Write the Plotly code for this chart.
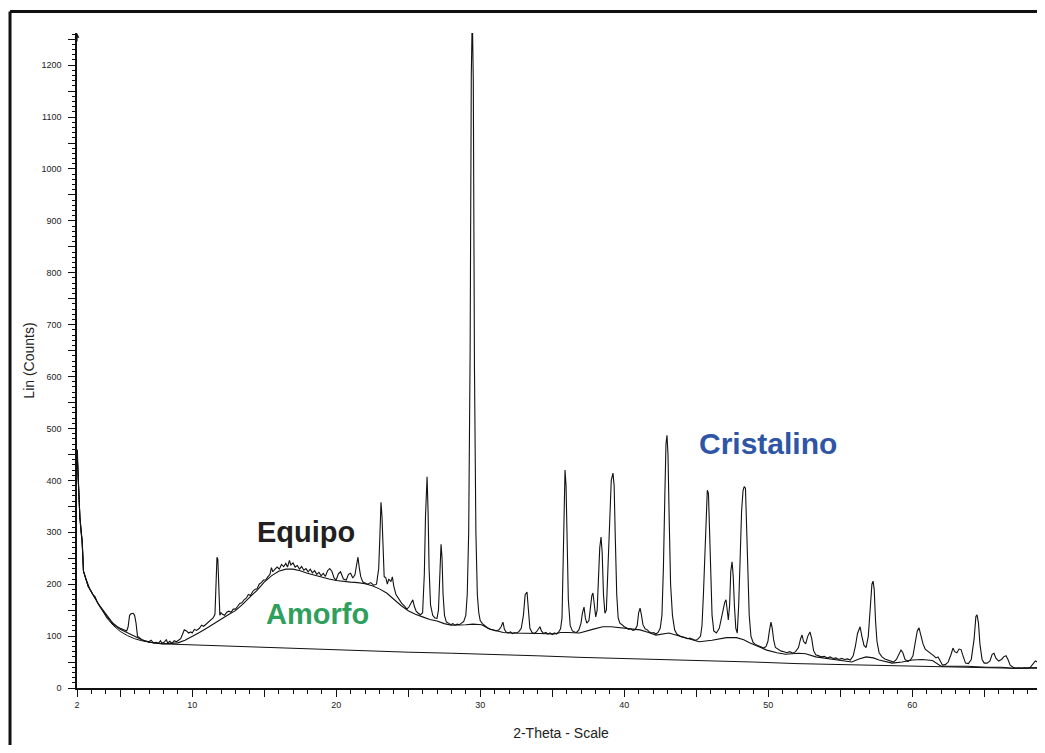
import plotly.graph_objects as go

# ---------------- data ----------------
obs_2theta = [
    2.00, 2.03, 2.07, 2.13, 2.20, 2.28, 2.35, 2.40, 2.45, 2.60,
    2.77, 2.90, 3.00, 3.10, 3.25, 3.35, 3.45, 3.60, 3.75, 3.90,
    4.07, 4.20, 4.35, 4.50, 4.65, 4.80, 5.00, 5.15, 5.30, 5.45,
    5.55, 5.65, 5.75, 5.90, 6.00, 6.10, 6.20, 6.30, 6.50, 6.70,
    6.85, 7.00, 7.15, 7.30, 7.50, 7.65, 7.80, 7.90, 8.05, 8.20,
    8.30, 8.45, 8.60, 8.75, 8.90, 9.05, 9.20, 9.35, 9.45, 9.60,
    9.75, 9.90, 10.00, 10.15, 10.30, 10.50, 10.65, 10.80, 11.00, 11.15,
    11.30, 11.45, 11.58, 11.65, 11.72, 11.78, 11.84, 11.92, 12.00, 12.10,
    12.25, 12.40, 12.55, 12.70, 12.85, 13.00, 13.15, 13.30, 13.45, 13.60,
    13.75, 13.90, 14.05, 14.20, 14.35, 14.50, 14.65, 14.80, 14.95, 15.10,
    15.25, 15.40, 15.50, 15.60, 15.75, 15.90, 16.05, 16.20, 16.35, 16.50,
    16.62, 16.75, 16.85, 17.00, 17.15, 17.30, 17.45, 17.60, 17.75, 17.90,
    18.05, 18.20, 18.35, 18.50, 18.65, 18.80, 18.95, 19.10, 19.25, 19.40,
    19.55, 19.70, 19.85,
    20.00, 20.15, 20.30, 20.50, 20.70, 20.85, 21.00, 21.15, 21.30, 21.42,
    21.51, 21.60, 21.70, 21.85, 22.00, 22.20, 22.40, 22.60, 22.80, 22.95,
    23.03, 23.11, 23.18, 23.25, 23.33, 23.45, 23.55, 23.65, 23.80, 23.90,
    24.00, 24.15, 24.35, 24.55, 24.75, 24.90, 25.05, 25.20, 25.32, 25.42,
    25.55, 25.70, 25.85, 26.00, 26.12, 26.20, 26.31, 26.38, 26.45, 26.55,
    26.70, 26.85, 27.00, 27.10, 27.18, 27.28, 27.35, 27.42, 27.52, 27.65,
    27.80, 27.95, 28.10, 28.25, 28.40, 28.55, 28.70, 28.85, 29.00, 29.10,
    29.20, 29.30, 29.38, 29.45, 29.52, 29.60, 29.70, 29.80, 29.90, 30.00,
    30.15, 30.30, 30.50, 30.70, 30.90, 31.10, 31.30, 31.45, 31.58, 31.68,
    31.80, 31.95, 32.10, 32.25, 32.40, 32.55, 32.70, 32.85, 33.00, 33.12,
    33.25, 33.35, 33.45, 33.60, 33.75, 33.90, 34.02, 34.15, 34.25, 34.40,
    34.55, 34.70, 34.85, 35.00, 35.15, 35.30, 35.45, 35.58, 35.68, 35.75,
    35.82, 35.89, 35.96, 36.04, 36.12, 36.25, 36.40, 36.55, 36.70, 36.85,
    37.00, 37.10, 37.21, 37.30, 37.40, 37.55, 37.65, 37.75, 37.83, 37.92,
    38.02, 38.12, 38.22, 38.30, 38.39, 38.47, 38.56, 38.66, 38.76, 38.88,
    39.00, 39.10, 39.22, 39.30, 39.38, 39.48, 39.58, 39.70, 39.85, 40.00,
    40.15, 40.30, 40.45, 40.60, 40.75, 40.90, 41.00, 41.10, 41.20, 41.30,
    41.45, 41.60, 41.75, 41.90, 42.05, 42.20, 42.35, 42.50, 42.62, 42.72,
    42.82, 42.90, 42.97, 43.04, 43.12, 43.22, 43.35, 43.50, 43.65, 43.80,
    43.95, 44.10, 44.25, 44.40, 44.55, 44.70, 44.85, 45.00, 45.15, 45.30,
    45.40, 45.50, 45.60, 45.70, 45.77, 45.85, 45.92, 46.00, 46.10, 46.22,
    46.40, 46.60, 46.75, 46.90, 46.98, 47.07, 47.15, 47.23, 47.32, 47.40,
    47.49, 47.57, 47.65, 47.75, 47.85, 47.95, 48.05, 48.15, 48.25, 48.33,
    48.42, 48.50, 48.58, 48.68, 48.80, 48.95, 49.10, 49.30, 49.50, 49.70,
    49.85, 49.98, 50.08, 50.19, 50.28, 50.38, 50.50, 50.70, 50.90, 51.10,
    51.30, 51.50, 51.70, 51.90, 52.10, 52.25, 52.35, 52.45, 52.60, 52.75,
    52.90, 53.02, 53.15, 53.30, 53.50, 53.70, 53.90, 54.10, 54.30, 54.50,
    54.70, 54.90, 55.10, 55.30, 55.50, 55.70, 55.90, 56.05, 56.20, 56.38,
    56.50, 56.65, 56.80, 56.95, 57.10, 57.20, 57.28, 57.36, 57.45, 57.55,
    57.70, 57.90, 58.10, 58.30, 58.50, 58.70, 58.90, 59.05, 59.22, 59.35,
    59.50, 59.70, 59.90, 60.05, 60.20, 60.35, 60.47, 60.60, 60.75, 60.90,
    61.10, 61.30, 61.50, 61.65, 61.79, 61.95, 62.10, 62.30, 62.50, 62.70,
    62.83, 62.95, 63.10, 63.25, 63.39, 63.55, 63.70, 63.90, 64.10, 64.30,
    64.42, 64.50, 64.60, 64.70, 64.85, 65.00, 65.20, 65.40, 65.55, 65.68,
    65.80, 66.00, 66.20, 66.35, 66.51, 66.65, 66.80, 67.00, 67.20, 67.40,
    67.60, 67.80, 68.00, 68.20, 68.40, 68.55, 68.70, 68.85, 69.00, 69.20,
]
obs_counts = [
    459, 455, 416, 360, 329, 300, 285, 262, 225, 212,
    198, 190, 186, 180, 176, 170, 163, 158, 152, 146,
    141, 135, 130, 125, 121, 118, 115, 113, 111, 110,
    118, 140, 143, 144, 140, 125, 100, 97, 93, 91,
    90, 89, 92, 87, 88, 86, 91, 86, 88, 93,
    87, 90, 86, 91, 89, 92, 95, 105, 112, 110,
    106, 108, 106, 113, 111, 115, 121, 119, 124, 127,
    131, 135, 142, 200, 252, 248, 180, 140, 145, 142,
    140, 146, 148, 146, 152, 152, 157, 163, 164, 170,
    173, 180, 178, 186, 190, 191, 200, 203, 208, 208,
    214, 219, 232, 224, 229, 233, 229, 238, 234, 240,
    233, 246, 237, 241, 233, 236, 229, 234, 227, 230,
    224, 229, 222, 226, 219, 223, 216, 221, 215, 226,
    230, 225, 212,
    208, 220, 224, 210, 208, 219, 221, 212, 218, 238,
    252, 232, 215, 204, 202, 200, 203, 198, 200, 230,
    290, 358, 330, 260, 215, 212, 200, 210, 205, 214,
    196, 180, 172, 163, 158, 152, 156, 165, 170, 158,
    148, 144, 141, 145, 220, 330, 407, 340, 230, 160,
    140, 135, 134, 150, 210, 277, 250, 180, 140, 127,
    125, 122, 124, 121, 123, 122, 125, 128, 140, 180,
    300, 650, 1180, 1300, 1170, 620, 300, 180, 145, 130,
    124, 120, 116, 113, 111, 110, 112, 118, 127, 113,
    108, 106, 108, 105, 107, 106, 109, 115, 140, 180,
    185, 150, 115, 107, 105, 108, 112, 118, 110, 105,
    107, 104, 106, 103, 106, 104, 108, 114, 135, 220,
    360, 420, 390, 280, 170, 120, 110, 108, 107, 112,
    125, 145, 156, 135, 125, 130, 160, 178, 183, 160,
    137, 150, 220, 270, 291, 260, 180, 144, 150, 230,
    340, 400, 414, 390, 290, 180, 135, 125, 122, 118,
    116, 113, 114, 111, 112, 120, 145, 154, 140, 122,
    114, 112, 108, 106, 107, 104, 107, 115, 140, 230,
    370, 470, 487, 450, 330, 200, 140, 112, 104, 101,
    99, 98, 97, 95, 96, 94, 93, 92, 95, 100,
    120, 180, 270, 360, 381, 375, 320, 220, 140, 110,
    106, 115, 135, 160, 165, 170, 150, 131, 160, 225,
    243, 215, 160, 115, 106, 160, 250, 340, 380, 388,
    385, 300, 200, 140, 100, 88, 84, 82, 79, 77,
    80, 90, 110, 127, 115, 92, 78, 74, 71, 70,
    68, 70, 67, 70, 78, 95, 102, 90, 85, 100,
    108, 95, 72, 64, 62, 60, 61, 58, 60, 57,
    58, 55, 57, 55, 56, 54, 62, 80, 105, 118,
    100, 82, 78, 100, 160, 200, 206, 190, 130, 90,
    68, 60, 56, 54, 51, 50, 55, 65, 73, 68,
    55, 51, 55, 62, 85, 110, 116, 100, 85, 75,
    71, 66, 62, 58, 60, 52, 44, 45, 50, 65,
    77, 70, 68, 75, 74, 60, 48, 47, 55, 95,
    138, 141, 125, 85, 55, 48, 48, 52, 65, 67,
    58, 52, 55, 60, 62, 55, 44, 40, 38, 39,
    38, 39, 38, 40, 48, 52, 50, 54, 52, 50,
]

amorphous_2theta = [
    2.00, 2.07, 2.20, 2.35, 2.45, 2.77, 3.10, 3.60, 4.07, 4.50,
    5.00, 5.50, 6.00, 6.50, 7.00, 7.50, 8.00, 8.50, 9.00, 9.50,
    10.00, 10.50, 11.00, 11.50, 12.00, 12.50, 13.00, 13.50, 14.00, 14.50,
    15.00, 15.50, 16.00, 16.50, 17.00, 17.50, 18.00, 18.50, 19.00, 19.50,
    20.00, 20.50, 21.00, 21.50, 22.00, 22.50, 23.00, 23.50, 24.00, 24.50,
    25.00, 25.50, 26.00, 26.50, 27.00, 27.50, 28.00, 28.50, 29.00, 29.50,
    30.10, 30.60, 31.10, 31.60, 32.10, 33.10, 34.10, 35.10, 35.60, 36.10,
    36.90, 37.80, 38.50, 39.10, 39.70, 40.40, 41.10, 41.70, 42.20, 43.10,
    43.70, 44.30, 45.20, 46.10, 47.10, 47.80, 48.30, 48.70, 49.30, 49.90,
    50.60, 51.20, 52.10, 52.60, 53.30, 54.10, 54.90, 55.80, 56.30, 56.80,
    57.30, 57.70, 58.60, 59.30, 60.00, 60.70, 61.40, 62.00, 63.10, 63.80,
    65.20, 66.20, 67.00, 68.20, 69.20,
]
amorphous_counts = [
    459, 416, 329, 285, 225, 196, 180, 156, 138, 123,
    113, 106, 100, 93, 88, 86, 85, 86, 87, 92,
    99, 107, 115, 124, 133, 141, 149, 161, 175, 188,
    204, 216, 225, 229, 229, 226, 221, 217, 213, 210,
    207, 205, 204, 203, 201, 197, 191, 183, 171, 159,
    149, 142, 137, 132, 129, 124, 121, 121, 122, 123,
    122, 114, 110, 107, 106, 106, 105, 104, 107, 107,
    106, 113, 118, 118, 116, 114, 112, 107, 102, 106,
    101, 96, 89, 92, 97, 97, 93, 87, 80, 73,
    68, 65, 67, 66, 60, 57, 54, 50, 56, 60,
    58, 54, 48, 50, 54, 55, 53, 42, 42, 42,
    40, 40, 38, 39, 40,
]

baseline_2theta = [
    2.00, 2.07, 2.20, 2.35, 2.45, 2.77, 3.10, 3.60, 4.07, 4.50,
    5.00, 5.50, 6.00, 6.50, 7.00, 7.50, 8.00, 10.00, 13.00, 16.00,
    19.00, 22.00, 25.00, 28.00, 31.00, 34.00, 37.00, 40.00, 43.00, 46.00,
    49.00, 52.00, 55.00, 58.00, 61.00, 64.00, 67.00, 69.20,
]
baseline_counts = [
    459, 416, 329, 285, 225, 196, 180, 155, 135, 121,
    109, 101, 95, 91, 88, 86, 85, 83, 80, 77,
    74, 71, 69, 67, 65, 62, 59, 57, 55, 52,
    50, 47, 45, 43, 41, 40, 38, 38,
]

x_tick_vals = [2, 5, 10, 15, 20, 25, 30, 35, 40, 45, 50, 55, 60, 65]
x_tick_text = ["2", "", "10", "", "20", "", "30", "", "40", "", "50", "", "60", ""]
y_tick_vals = [0, 50, 100, 150, 200, 250, 300, 350, 400, 450, 500, 550, 600, 650,
               700, 750, 800, 850, 900, 950, 1000, 1050, 1100, 1150, 1200, 1250]
y_tick_text = ["0", "", "100", "", "200", "", "300", "", "400", "", "500", "", "600", "",
               "700", "", "800", "", "900", "", "1000", "", "1100", "", "1200", ""]

labels = ["Equipo", "Amorfo", "Cristalino"]
label_x = [17.9, 18.67, 50.0]
label_y = [300, 142, 472]
label_colors = ["#231f20", "#2ea05c", "#2e55a6"]
label_sizes = [29, 29, 30]

# ---------------- figure ----------------
FONT = "Arial, 'Liberation Sans', Helvetica, sans-serif"

fig = go.Figure()
fig.add_trace(go.Scatter(x=baseline_2theta, y=baseline_counts, mode="lines",
                         line=dict(color="#111111", width=1), hoverinfo="skip"))
fig.add_trace(go.Scatter(x=amorphous_2theta, y=amorphous_counts, mode="lines",
                         line=dict(color="#111111", width=1.1), hoverinfo="skip"))
fig.add_trace(go.Scatter(x=obs_2theta, y=obs_counts, mode="lines",
                         line=dict(color="#111111", width=1.1)))

for t, x, y, c, s in zip(labels, label_x, label_y, label_colors, label_sizes):
    fig.add_annotation(x=x, y=y, xref="x", yref="y", text=f"<b>{t}</b>",
                       showarrow=False, xanchor="center", yanchor="middle",
                       font=dict(family=FONT, size=s, color=c))

# arrow head on the top of the y axis
fig.add_annotation(x=0, y=1, xref="paper", yref="paper", text="", showarrow=True,
                   ax=0, ay=10, arrowhead=2, arrowsize=0.8, arrowwidth=1.2,
                   arrowcolor="#111111")

# outer frame (left and top edges visible in the reference)
fig.add_shape(type="line", xref="paper", yref="paper",
              x0=-0.0692, x1=-0.0692, y0=-0.2, y1=1.033,
              line=dict(color="#111111", width=3))
fig.add_shape(type="line", xref="paper", yref="paper",
              x0=-0.0692, x1=1.1, y0=1.033, y1=1.033,
              line=dict(color="#111111", width=3))

# the page body adds an 8 px offset; the figure size avoids any page overflow
fig.update_layout(
    width=1037, height=737,
    margin=dict(l=69, r=0, t=25, b=57, autoexpand=False),
    paper_bgcolor="white", plot_bgcolor="white",
    showlegend=False,
    font=dict(family=FONT, color="#222222"),
    xaxis=dict(
        range=[2, 69.22], showgrid=False, zeroline=False,
        showline=True, linecolor="#111111", linewidth=1.5,
        ticks="outside", ticklen=7, tickwidth=1, tickcolor="#111111",
        tickmode="array", tickvals=x_tick_vals, ticktext=x_tick_text,
        tickfont=dict(family=FONT, size=9, color="#222222"),
        minor=dict(ticks="outside", ticklen=4, tickwidth=1, tickcolor="#111111",
                   dtick=1, tick0=0, showgrid=False),
        title=dict(text="2-Theta - Scale", standoff=20,
                   font=dict(family=FONT, size=14, color="#222222")),
    ),
    yaxis=dict(
        range=[0, 1262], showgrid=False, zeroline=False,
        showline=True, linecolor="#111111", linewidth=1.5,
        ticks="outside", ticklen=7, tickwidth=1, tickcolor="#111111",
        tickmode="array", tickvals=y_tick_vals, ticktext=y_tick_text,
        tickfont=dict(family=FONT, size=9, color="#222222"),
        ticklabelstandoff=5,
        minor=dict(ticks="outside", ticklen=3, tickwidth=1, tickcolor="#111111",
                   dtick=10, tick0=0, showgrid=False),
        title=dict(text="Lin (Counts)", standoff=4,
                   font=dict(family=FONT, size=14, color="#222222")),
    ),
)

fig.write_html("out.html")
